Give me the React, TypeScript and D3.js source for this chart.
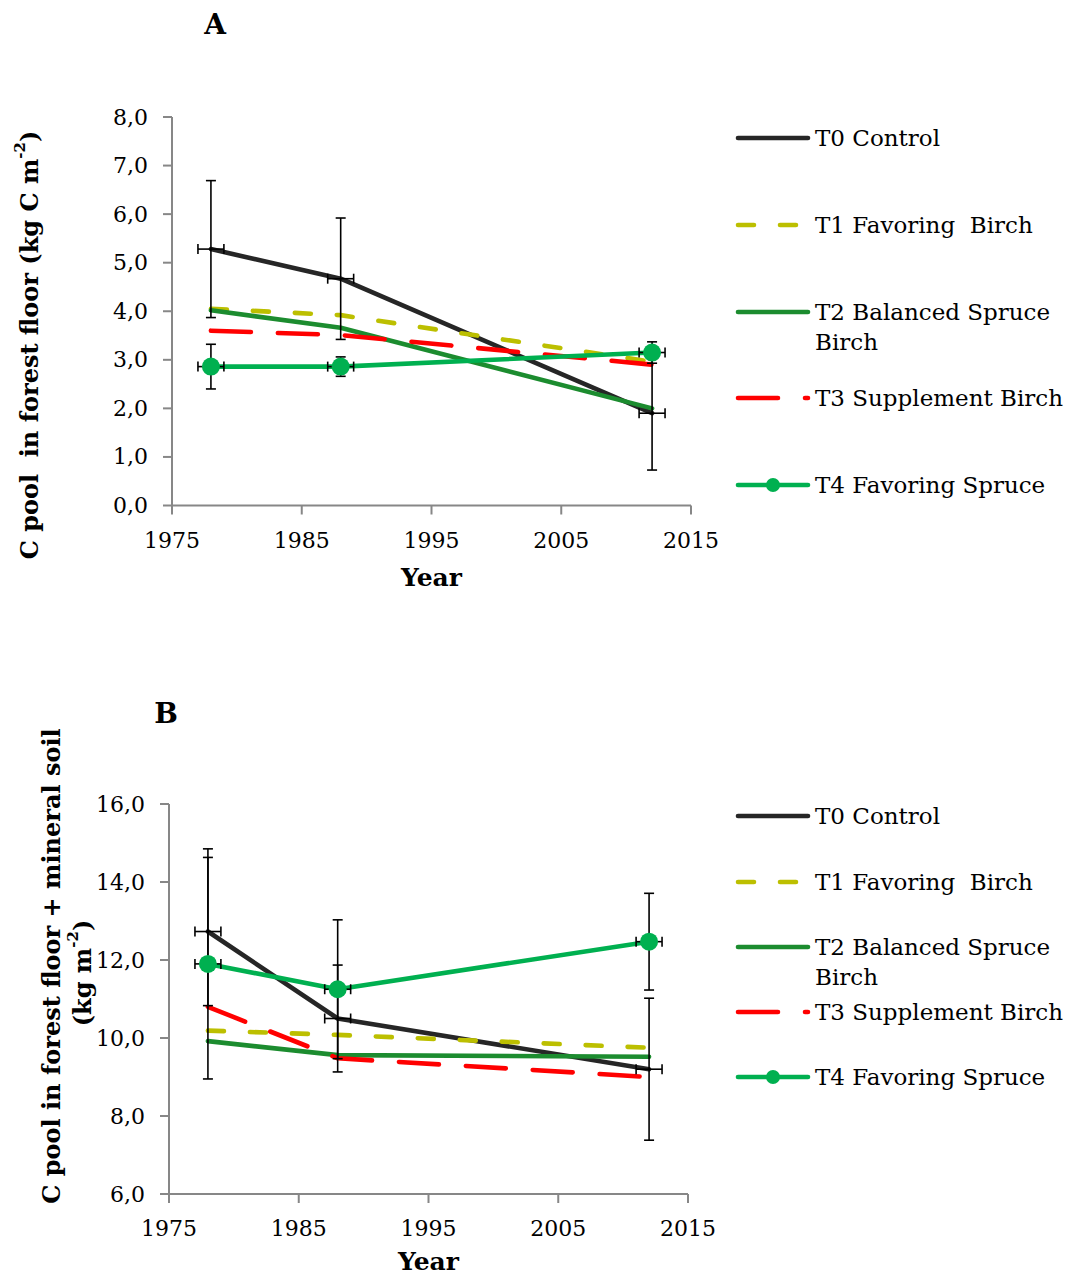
import React from "react";
import * as d3 from "d3";

const years = [1978, 1988, 2012];
const seriesNames = ["T0 Control", "T1 Favoring  Birch", "T2 Balanced Spruce", "T3 Supplement Birch", "T4 Favoring Spruce"];
const seriesColors = ["#262626", "#bcbf00", "#1c8c2f", "#ff0000", "#00b050"];
const seriesDash = [null, "16,26", null, "40,27", null];

// Panel A: C pool in forest floor
const aT0 = [5.28, 4.67, 1.9];
const aT1 = [4.05, 3.92, 2.96];
const aT2 = [4.02, 3.66, 2.0];
const aT3 = [3.6, 3.51, 2.9];
const aT4 = [2.86, 2.86, 3.15];
const aT0Err = [1.41, 1.25, 1.17];
const aT4Err = [0.46, 0.2, 0.22];

// Panel B: C pool in forest floor + mineral soil
const bT0 = [12.73, 10.5, 9.2];
const bT1 = [10.19, 10.08, 9.75];
const bT2 = [9.92, 9.56, 9.52];
const bT3 = [10.8, 9.48, 9.0];
const bT4 = [11.9, 11.25, 12.47];
const bT0Err = [1.9, 1.37, 1.82];
const bT4Err = [2.95, 1.78, 1.24];

const yearErr = 1;
const xTicks = [1975, 1985, 1995, 2005, 2015];
const aYTicks = [0, 1, 2, 3, 4, 5, 6, 7, 8];
const bYTicks = [6, 8, 10, 12, 14, 16];

const FONT = "'DejaVu Serif', 'Liberation Serif', serif";
const fmt = (v: number) => d3.format(".1f")(v).replace(".", ",");
const pre = { whiteSpace: "pre" } as React.CSSProperties;

type PanelProps = {
  x0: number; x1: number; yTop: number; yBot: number; yDomain: [number, number]; yTicks: number[];
  series: number[][]; t0Err: number[]; t4Err: number[];
  legendX: number; legendYs: number[]; birchY: number;
  title: string; titleX: number; titleY: number; xLabelY: number; tickLabelY: number;
  yLabel: React.ReactNode;
};

function Panel(p: PanelProps) {
  const x = d3.scaleLinear().domain([1975, 2015]).range([p.x0, p.x1]);
  const y = d3.scaleLinear().domain(p.yDomain).range([p.yBot, p.yTop]);
  const line = d3.line<number>().x((_, i) => x(years[i])).y((v) => y(v));
  const axisColor = "#878787";
  const cap = 5;
  const errBars = (vals: number[], errs: number[], key: string) =>
    years.map((yr, i) => {
      const cx = x(yr), cy = y(vals[i]);
      const top = y(vals[i] + errs[i]), bot = y(vals[i] - errs[i]);
      const xl = x(yr - yearErr), xr = x(yr + yearErr);
      return (
        <g key={key + i} stroke="#000" strokeWidth={1.6} fill="none">
          <line x1={cx} x2={cx} y1={top} y2={bot} />
          <line x1={cx - cap} x2={cx + cap} y1={top} y2={top} />
          <line x1={cx - cap} x2={cx + cap} y1={bot} y2={bot} />
          <line x1={xl} x2={xr} y1={cy} y2={cy} />
          <line x1={xl} x2={xl} y1={cy - cap} y2={cy + cap} />
          <line x1={xr} x2={xr} y1={cy - cap} y2={cy + cap} />
        </g>
      );
    });
  return (
    <g fontFamily={FONT}>
      <text x={p.titleX} y={p.titleY} textAnchor="middle" dominantBaseline="central" fontWeight="bold" fontSize={28}>{p.title}</text>
      <line x1={p.x0} x2={p.x0} y1={p.yTop} y2={p.yBot} stroke={axisColor} strokeWidth={2} />
      <line x1={p.x0} x2={p.x1} y1={p.yBot} y2={p.yBot} stroke={axisColor} strokeWidth={2} />
      {p.yTicks.map((t) => (
        <g key={"yt" + t}>
          <line x1={p.x0 - 9} x2={p.x0} y1={y(t)} y2={y(t)} stroke={axisColor} strokeWidth={2} />
          <text x={p.x0 - 24} y={y(t)} textAnchor="end" dominantBaseline="central" fontSize={22}>{fmt(t)}</text>
        </g>
      ))}
      {xTicks.map((t) => (
        <g key={"xt" + t}>
          <line x1={x(t)} x2={x(t)} y1={p.yBot} y2={p.yBot + 9} stroke={axisColor} strokeWidth={2} />
          <text x={x(t)} y={p.tickLabelY} textAnchor="middle" dominantBaseline="central" fontSize={22}>{t}</text>
        </g>
      ))}
      <text x={(p.x0 + p.x1) / 2} y={p.xLabelY} textAnchor="middle" dominantBaseline="central" fontWeight="bold" fontSize={25}>Year</text>
      {p.yLabel}
      {p.series.map((s, i) => (
        <path key={"l" + i} d={line(s) || ""} fill="none" stroke={seriesColors[i]} strokeWidth={4.6}
          strokeDasharray={seriesDash[i] || undefined} strokeLinecap="round" strokeLinejoin="round" />
      ))}
      {errBars(p.series[0], p.t0Err, "e0")}
      {errBars(p.series[4], p.t4Err, "e4")}
      {p.series[4].map((v, i) => (
        <circle key={"m" + i} cx={x(years[i])} cy={y(v)} r={9} fill={seriesColors[4]} />
      ))}
      {seriesNames.map((n, i) => {
        const ly = p.legendYs[i];
        const lx0 = p.legendX, lx1 = p.legendX + 70;
        return (
          <g key={"lg" + i}>
            <line x1={lx0} x2={lx1} y1={ly} y2={ly} stroke={seriesColors[i]} strokeWidth={4.6}
              strokeDasharray={seriesDash[i] || undefined} strokeLinecap="round" />
            {i === 4 && <circle cx={(lx0 + lx1) / 2} cy={ly} r={7} fill={seriesColors[4]} />}
            <text x={lx1 + 7} y={ly} dominantBaseline="central" fontSize={23} style={pre}>{n}</text>
            {i === 2 && <text x={lx1 + 7} y={p.birchY} dominantBaseline="central" fontSize={23}>Birch</text>}
          </g>
        );
      })}
    </g>
  );
}

export default function App() {
  return (
    <svg width={1068} height={1277} style={{ position: "absolute", left: 0, top: 0, background: "#fff" }}>
      <rect width={1068} height={1277} fill="#fff" />
      <Panel
        x0={172} x1={691} yTop={117} yBot={505.5} yDomain={[0, 8]} yTicks={aYTicks}
        series={[aT0, aT1, aT2, aT3, aT4]} t0Err={aT0Err} t4Err={aT4Err}
        legendX={738} legendYs={[138, 225, 312, 398, 485]} birchY={342}
        title="A" titleX={215} titleY={24} xLabelY={577} tickLabelY={540}
        yLabel={
          <text transform="translate(29,345) rotate(-90)" textAnchor="middle" dominantBaseline="central" fontWeight="bold" fontSize={24} style={pre}>
            C pool  in forest floor (kg C m<tspan dy={-9} fontSize={15}>-2</tspan><tspan dy={9}>)</tspan>
          </text>
        }
      />
      <Panel
        x0={169} x1={688} yTop={804} yBot={1194} yDomain={[6, 16]} yTicks={bYTicks}
        series={[bT0, bT1, bT2, bT3, bT4]} t0Err={bT0Err} t4Err={bT4Err}
        legendX={738} legendYs={[816, 882, 947, 1012, 1077]} birchY={977}
        title="B" titleX={166} titleY={713} xLabelY={1261} tickLabelY={1228}
        yLabel={
          <g>
            <text transform="translate(51,966) rotate(-90)" textAnchor="middle" dominantBaseline="central" fontWeight="bold" fontSize={24}>
              C pool in forest floor + mineral soil
            </text>
            <text transform="translate(82,973) rotate(-90)" textAnchor="middle" dominantBaseline="central" fontWeight="bold" fontSize={24}>
              (kg m<tspan dy={-9} fontSize={15}>-2</tspan><tspan dy={9}>)</tspan>
            </text>
          </g>
        }
      />
    </svg>
  );
}
